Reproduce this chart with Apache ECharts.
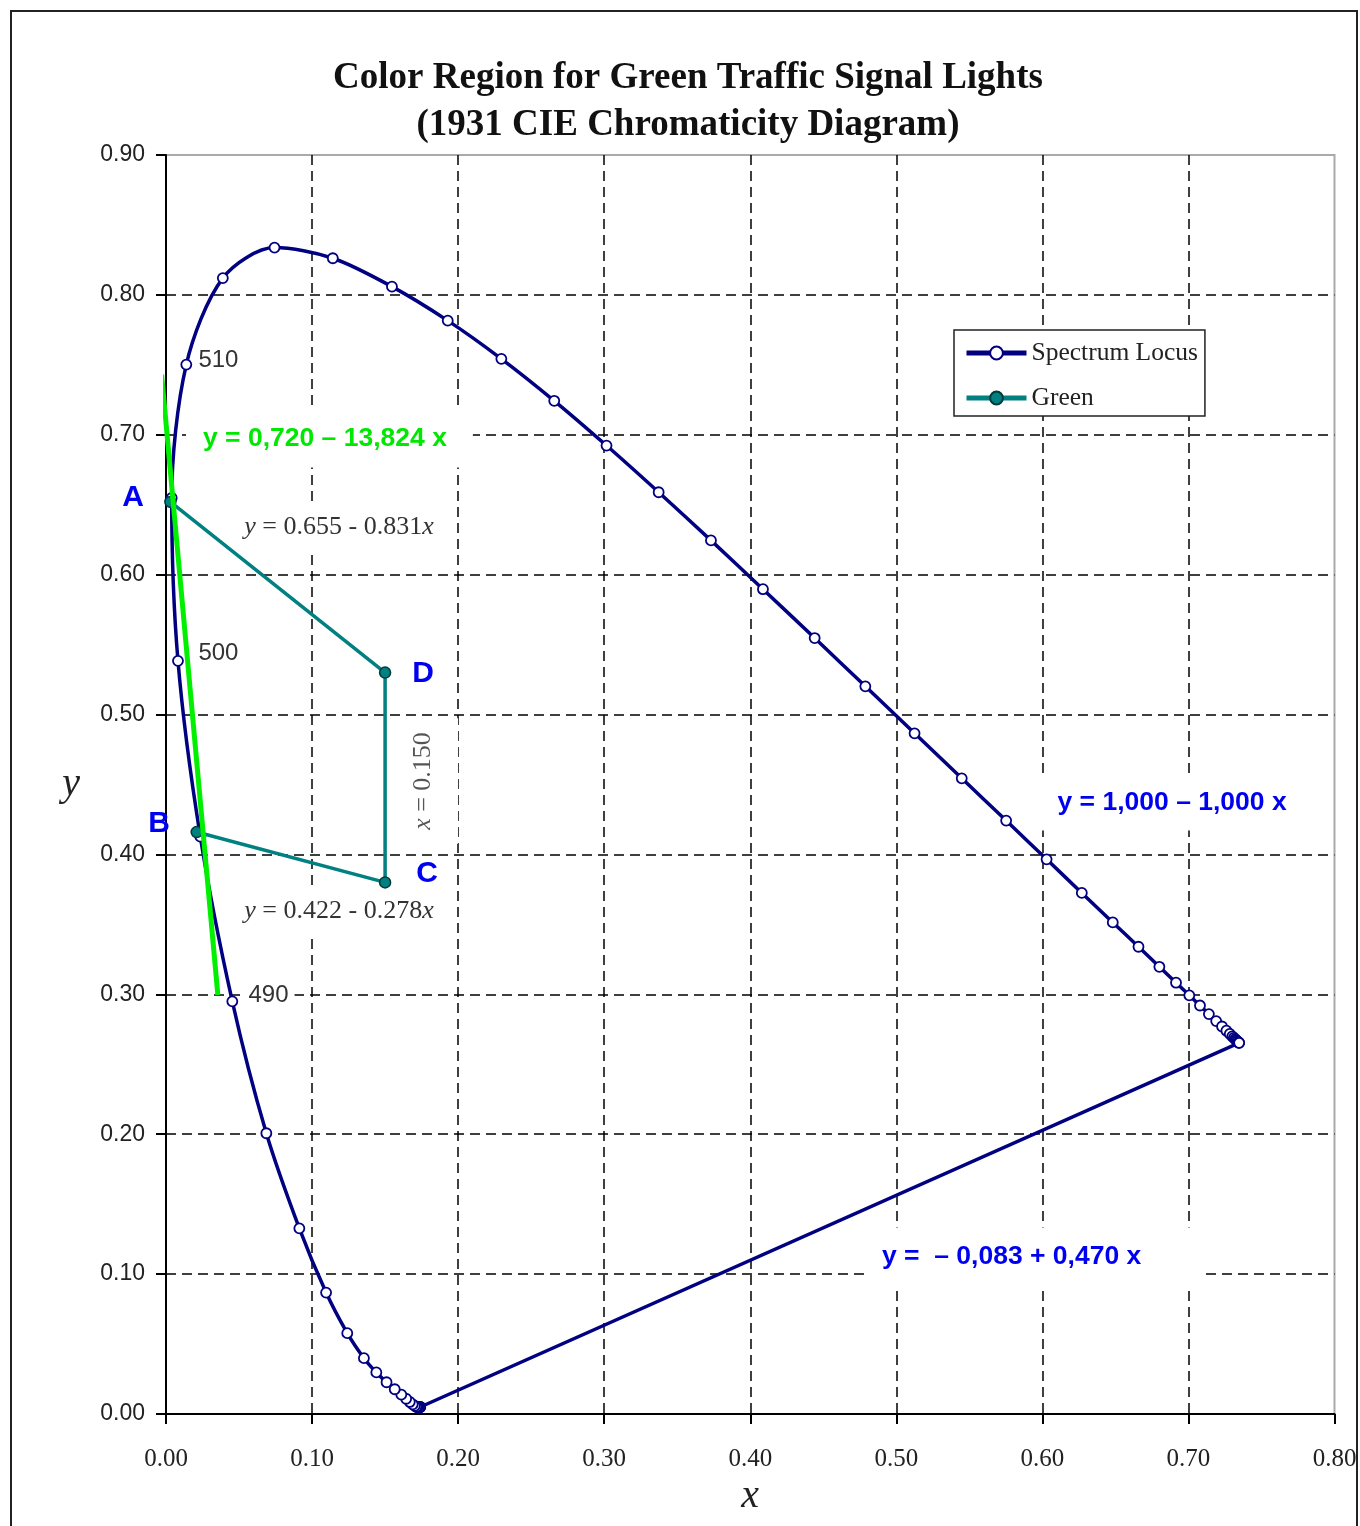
<!DOCTYPE html>
<html>
<head>
<meta charset="utf-8">
<script src="https://cdn.jsdelivr.net/npm/echarts@6/dist/echarts.min.js"></script>
<style>html,body{margin:0;padding:0;background:#fff;}#c{width:1360px;height:1526px;}</style>
</head>
<body>
<div id="c"></div>
<script>
// ---- data ----
const wavelengths = [380,385,390,395,400,405,410,415,420,425,430,435,440,445,450,455,460,465,470,475,480,485,490,495,500,505,510,515,520,525,530,535,540,545,550,555,560,565,570,575,580,585,590,595,600,605,610,615,620,625,630,635,640,645,650,655,660,665,670,675,680,685,690,695,700];
const locusX = [0.1741,0.1740,0.1738,0.1736,0.1733,0.1730,0.1726,0.1721,0.1714,0.1703,0.1689,0.1669,0.1644,0.1611,0.1566,0.1510,0.1440,0.1355,0.1241,0.1096,0.0913,0.0687,0.0454,0.0235,0.0082,0.0039,0.0139,0.0389,0.0743,0.1142,0.1547,0.1929,0.2296,0.2658,0.3016,0.3373,0.3731,0.4087,0.4441,0.4788,0.5125,0.5448,0.5752,0.6029,0.6270,0.6482,0.6658,0.6801,0.6915,0.7006,0.7079,0.7140,0.7190,0.7230,0.7260,0.7283,0.7300,0.7311,0.7320,0.7327,0.7334,0.7340,0.7344,0.7346,0.7347];
const locusY = [0.0050,0.0050,0.0049,0.0049,0.0048,0.0048,0.0048,0.0048,0.0051,0.0058,0.0069,0.0086,0.0109,0.0138,0.0177,0.0227,0.0297,0.0399,0.0578,0.0868,0.1327,0.2007,0.2950,0.4127,0.5384,0.6548,0.7502,0.8120,0.8338,0.8262,0.8059,0.7816,0.7543,0.7243,0.6923,0.6589,0.6245,0.5896,0.5547,0.5202,0.4866,0.4544,0.4242,0.3965,0.3725,0.3514,0.3340,0.3197,0.3083,0.2993,0.2920,0.2859,0.2809,0.2770,0.2740,0.2717,0.2700,0.2689,0.2680,0.2673,0.2666,0.2660,0.2656,0.2654,0.2653];
const purpleX = [0.7347, 0.1741];
const purpleY = [0.2653, 0.0050];
const greenNames = ['A','D','C','B'];
const greenX = [0.003, 0.150, 0.150, 0.021];
const greenY = [0.652, 0.530, 0.380, 0.416];
const limeX = [-0.003, 0.0355];
const limeY = [0.743, 0.2995];
const xTicks = [0,0.1,0.2,0.3,0.4,0.5,0.6,0.7,0.8];
const yTicks = [0,0.1,0.2,0.3,0.4,0.5,0.6,0.7,0.8,0.9];
const titleLines = ['Color Region for Green Traffic Signal Lights', '(1931 CIE Chromaticity Diagram)'];

// annotation anchors (data coordinates) and texts
const noteX = [0.1119, 0.1212, 0.1212, 0.1746, 0.6888, 0.595, 0.0359, 0.0359, 0.0702, -0.0226, -0.0048, 0.176, 0.1787];
const noteY = [0.6969, 0.634, 0.3595, 0.4525, 0.4367, 0.1122, 0.7534, 0.544, 0.2995, 0.6548, 0.4217, 0.529, 0.386];
const noteText = [
  'y = 0,720 \u2013 13,824 x',
  '{i|y} = 0.655 - 0.831{i|x}',
  '{i|y} = 0.422 - 0.278{i|x}',
  '{i|x} = 0.150',
  'y = 1,000 \u2013 1,000 x',
  'y =  \u2013 0,083 + 0,470 x',
  '510', '500', '490',
  'A', 'B', 'D', 'C'
];
const noteKind = ['lime','eq','eq','rot','blue','blue2','wl','wl','wlbg','pt','pt','pt','pt'];

// ---- styles ----
const kindStyle = {
  lime: {fontFamily:'Liberation Sans', fontWeight:'bold', fontSize:26.5, color:'#00e800', backgroundColor:'#fff', padding:[15,26,15,17]},
  eq:   {fontFamily:'Liberation Serif', fontSize:26, color:'#333', backgroundColor:'#fff', padding:[11,22,11,14], rich:{i:{fontStyle:'italic', fontFamily:'Liberation Serif', fontSize:26, color:'#333'}}},
  rot:  {fontFamily:'Liberation Serif', fontSize:26, color:'#555', backgroundColor:'#fff', padding:[26,14,22,14], rotate:90, rich:{i:{fontStyle:'italic', fontFamily:'Liberation Serif', fontSize:26, color:'#555'}}},
  blue: {fontFamily:'Liberation Sans', fontWeight:'bold', fontSize:26.5, color:'#0000f0', backgroundColor:'#fff', padding:[14,16,14,16]},
  blue2:{fontFamily:'Liberation Sans', fontWeight:'bold', fontSize:26.5, color:'#0000f0', backgroundColor:'#fff', padding:[16,64,16,17]},
  wl:   {fontFamily:'Liberation Sans', fontSize:24, color:'#333'},
  wlbg: {fontFamily:'Liberation Sans', fontSize:24, color:'#333', backgroundColor:'#fff', padding:[2,6,2,6]},
  pt:   {fontFamily:'Liberation Sans', fontWeight:'bold', fontSize:30, color:'#0000f0'}
};

const locusData = locusX.map((x,i)=>[x, locusY[i]]);
const purpleData = purpleX.map((x,i)=>[x, purpleY[i]]);
const greenData = greenX.map((x,i)=>[x, greenY[i]]);
const limeData = limeX.map((x,i)=>[x, limeY[i]]);
const noteData = noteX.map((x,i)=>({
  value:[x, noteY[i]],
  label: Object.assign({show:true, position:'inside', formatter: noteText[i]}, kindStyle[noteKind[i]])
}));

const chart = echarts.init(document.getElementById('c'), null, {renderer:'canvas'});
chart.setOption({
  animation:false,
  backgroundColor:'#fff',
  title:{
    text: titleLines.join('\n'),
    left: 683, top: 50, textAlign:'center',
    textStyle:{fontFamily:'Liberation Serif', fontWeight:'bold', fontSize:37, lineHeight:47, color:'#111'}
  },
  graphic:[{
    type:'rect', z:-1, silent:true,
    shape:{x:11, y:11, width:1346, height:1560},
    style:{fill:'none', stroke:'#222', lineWidth:2}
  }],
  legend:{
    data:['Spectrum Locus','Green'],
    orient:'vertical', left:954, top:330,
    backgroundColor:'#fff', borderColor:'#222', borderWidth:1.5,
    padding:[10,7,5,10], itemGap:19, itemWidth:60, itemHeight:16,
    lineStyle:{width:5},
    textStyle:{fontFamily:'Liberation Serif', fontSize:25.5, color:'#222', lineHeight:24}
  },
  grid:{left:166, top:155, right:25.5, bottom:112, show:true, borderColor:'#aaa', borderWidth:2, containLabel:false},
  xAxis:{
    type:'value', min:xTicks[0], max:xTicks[xTicks.length-1], interval:0.1,
    name:'x', nameLocation:'middle', nameGap:62,
    nameTextStyle:{fontFamily:'Liberation Serif', fontStyle:'italic', fontSize:40, color:'#222'},
    axisLine:{show:true, onZero:false, lineStyle:{color:'#000', width:2}},
    axisTick:{show:true, length:10, lineStyle:{color:'#000', width:2}},
    axisLabel:{margin:33, fontFamily:'Liberation Serif', fontSize:25, color:'#222', formatter:v=>v.toFixed(2)},
    splitLine:{show:true, showMinLine:false, showMaxLine:false, lineStyle:{type:[10,6], color:'#000', width:1.5}}
  },
  yAxis:{
    type:'value', min:yTicks[0], max:yTicks[yTicks.length-1], interval:0.1,
    name:'y', nameLocation:'middle', nameGap:86, nameRotate:0,
    nameTextStyle:{fontFamily:'Liberation Serif', fontStyle:'italic', fontSize:40, color:'#222', padding:[12,0,0,0]},
    axisLine:{show:true, onZero:false, lineStyle:{color:'#000', width:2}},
    axisTick:{show:true, length:10, lineStyle:{color:'#000', width:2}},
    axisLabel:{margin:21, fontFamily:'Liberation Sans', fontSize:23, color:'#222', formatter:v=>v.toFixed(2)},
    splitLine:{show:true, showMinLine:false, showMaxLine:false, lineStyle:{type:[10,6], color:'#000', width:1.5}}
  },
  series:[
    {type:'scatter', name:'notes', data:noteData, symbolSize:0, silent:true, clip:false, z:1,
     itemStyle:{opacity:1}},
    {type:'line', name:'Spectrum Locus', data:locusData, smooth:0.3, clip:false, z:3,
     symbol:'circle', symbolSize:10, showAllSymbol:true,
     lineStyle:{color:'#000080', width:3.5},
     itemStyle:{color:'#fff', borderColor:'#000080', borderWidth:1.8}},
    {type:'line', name:'Spectrum Locus', data:purpleData, clip:false, z:3, showSymbol:false,
     lineStyle:{color:'#000080', width:3.5}, itemStyle:{color:'#fff', borderColor:'#000080'}},
    {type:'line', name:'Green', data:greenData, clip:false, z:4,
     symbol:'circle', symbolSize:11, showAllSymbol:true,
     lineStyle:{color:'#008080', width:3.5},
     itemStyle:{color:'#008080', borderColor:'#003a3a', borderWidth:1.5}},
    {type:'line', name:'lime', data:limeData, clip:false, z:5, showSymbol:false,
     lineStyle:{color:'#00f000', width:5}}
  ]
});
</script>
</body>
</html>
